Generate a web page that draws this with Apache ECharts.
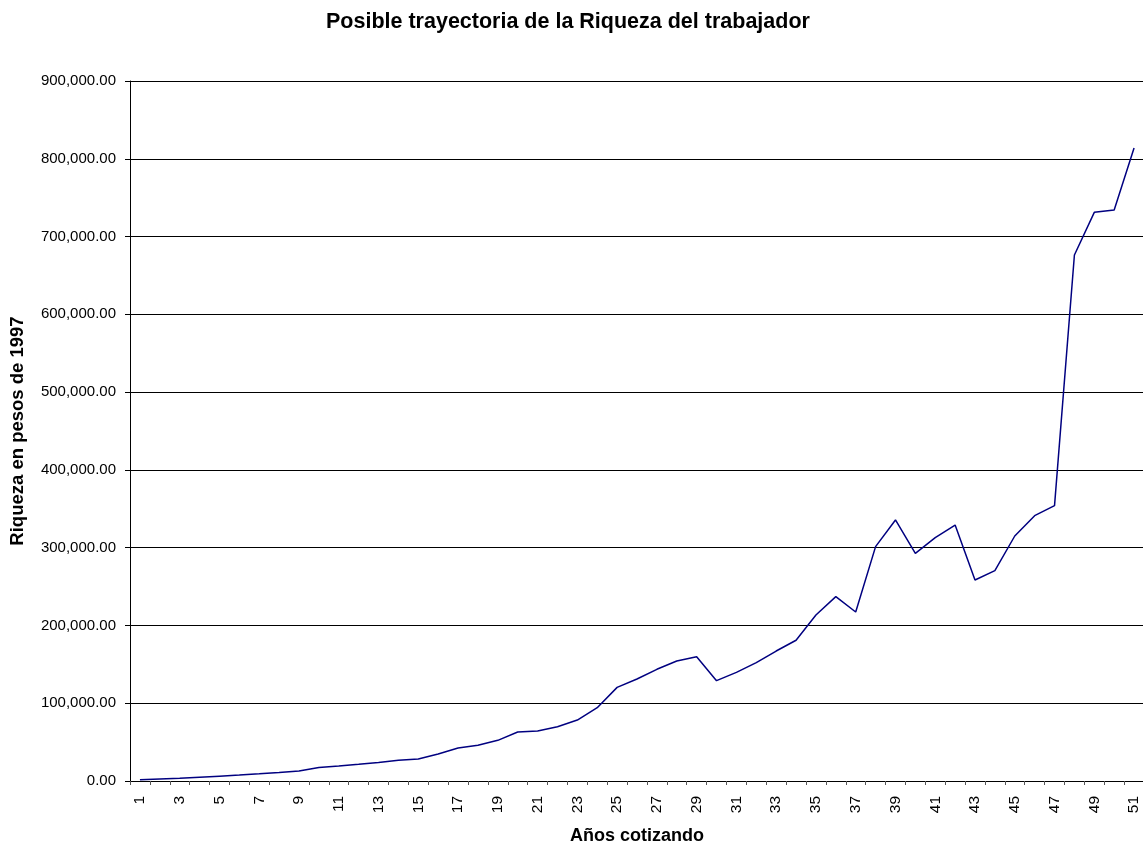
<!DOCTYPE html>
<html>
<head>
<meta charset="utf-8">
<script src="https://cdn.jsdelivr.net/npm/echarts@6/dist/echarts.min.js"></script>
<style>html,body{margin:0;padding:0;background:#fff}#c{width:1143px;height:849px}</style>
</head>
<body>
<div id="c"></div>
<script>
const titleText = 'Posible trayectoria de la Riqueza del trabajador';
const xName = 'Años cotizando';
const yName = 'Riqueza en pesos de 1997';
const years = [];
for (let i = 1; i <= 51; i++) years.push(String(i));
const riqueza = [
  1500, 2500, 3500, 4800, 6200, 7600, 9200, 10900, 12800, 17500,
  19300, 21500, 23800, 26800, 28300, 34700, 42400, 45900, 52300, 63000,
  64300, 69800, 78400, 94300, 120400, 131100, 143600, 154300, 159800, 129000,
  139700, 152100, 167100, 181000, 213400, 237000, 217300, 301300, 335600, 292700,
  312900, 329100, 258400, 270400, 315000, 341100, 354000, 676300, 731100, 734100,
  813900
];
const chart = echarts.init(document.getElementById('c'), null, {renderer: 'canvas'});
const font = 'Liberation Sans, Arial, sans-serif';
chart.setOption({
  animation: false,
  backgroundColor: '#fff',
  title: {
    text: titleText, left: 321, top: 6,
    textStyle: {fontFamily: font, fontSize: 21.5, fontWeight: 'bold', color: '#000'}
  },
  grid: {left: 130, top: 81, width: 1014, bottom: 68, containLabel: false, outerBoundsMode: 'none'},
  xAxis: {
    type: 'category', data: years, boundaryGap: true,
    name: xName, nameLocation: 'middle', nameGap: 46, nameMoveOverlap: false,
    nameTextStyle: {fontFamily: font, fontSize: 18, fontWeight: 'bold', color: '#000', verticalAlign: 'top'},
    axisLine: {lineStyle: {color: '#000', width: 1}},
    axisTick: {show: true, interval: 0, length: 4, lineStyle: {color: '#555'}},
    axisLabel: {interval: 1, rotate: 90, fontFamily: font, fontSize: 15.5, color: '#000', margin: 15},
    splitLine: {show: false}
  },
  yAxis: {
    type: 'value', min: 0, max: 900000, interval: 100000,
    name: yName, nameLocation: 'middle', nameGap: 103, nameMoveOverlap: false,
    nameTextStyle: {fontFamily: font, fontSize: 18.5, fontWeight: 'bold', color: '#000'},
    axisLine: {show: true, lineStyle: {color: '#000', width: 1}},
    axisTick: {show: true, length: 5, lineStyle: {color: '#000'}},
    axisLabel: {
      fontFamily: font, fontSize: 15, color: '#000', margin: 14,
      formatter: v => v.toLocaleString('en-US', {minimumFractionDigits: 2, maximumFractionDigits: 2})
    },
    splitLine: {show: true, lineStyle: {color: '#000', width: 1}}
  },
  series: [{
    type: 'line', data: riqueza, symbol: 'none',
    lineStyle: {color: '#000080', width: 1.5}
  }]
});
</script>
</body>
</html>
